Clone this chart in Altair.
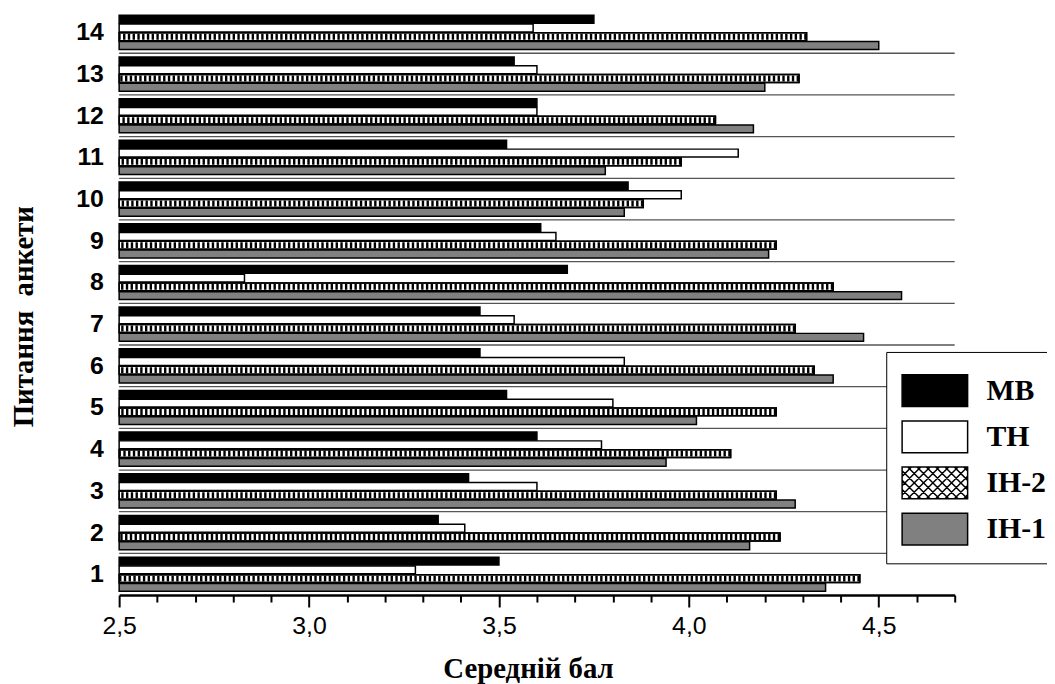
import altair as alt
import pandas as pd

# ---------------- data ----------------
questions = list(range(1, 15))
series_names = ["МВ", "ТН", "ІН-2", "ІН-1"]
mv = [3.50, 3.34, 3.42, 3.60, 3.52, 3.45, 3.45, 3.68, 3.61, 3.84, 3.52, 3.60, 3.54, 3.75]
tn = [3.28, 3.41, 3.60, 3.77, 3.80, 3.83, 3.54, 2.83, 3.65, 3.98, 4.13, 3.60, 3.60, 3.59]
ih2 = [4.45, 4.24, 4.23, 4.11, 4.23, 4.33, 4.28, 4.38, 4.23, 3.88, 3.98, 4.07, 4.29, 4.31]
ih1 = [4.36, 4.16, 4.28, 3.94, 4.02, 4.38, 4.46, 4.56, 4.21, 3.83, 3.78, 4.17, 4.20, 4.50]
x_tick_values = [2.5, 2.6, 2.7, 2.8, 2.9, 3.0, 3.1, 3.2, 3.3, 3.4, 3.5, 3.6,
                 3.7, 3.8, 3.9, 4.0, 4.1, 4.2, 4.3, 4.4, 4.5, 4.6, 4.7]
x_domain = [2.5, 4.7]
separator_questions = list(range(1, 14))

rows = []
for name, vals in zip(series_names, [mv, tn, ih2, ih1]):
    for q, v in zip(questions, vals):
        rows.append({"q": q, "series": name, "v": v})
df = pd.DataFrame(rows)
sep_df = pd.DataFrame({"q": separator_questions})

# ------------- legend swatch shapes (style only) -------------
U = 23.0  # px per path unit (vega scales custom paths by sqrt(size)/2)
x0, x1 = -1.0, 66.0 / U - 1.0
y0, y1 = -16.0 / U, 16.0 / U
rect_path = f"M{x0:.3f},{y0:.3f}H{x1:.3f}V{y1:.3f}H{x0:.3f}Z"


def hatch_path(spacing=9.4 / U):
    segs = []
    c = x0 - y1
    while c <= x1 - y0:
        lo, hi = max(x0, y0 + c), min(x1, y1 + c)
        if hi - lo > 1e-3:
            segs.append(f"M{lo:.3f},{lo - c:.3f}L{hi:.3f},{hi - c:.3f}")
        c += spacing
    c = x0 + y0
    while c <= x1 + y1:
        lo, hi = max(x0, c - y1), min(x1, c - y0)
        if hi - lo > 1e-3:
            segs.append(f"M{lo:.3f},{c - lo:.3f}L{hi:.3f},{c - hi:.3f}")
        c += spacing
    return rect_path + "".join(segs)


shape_range = [rect_path, rect_path, hatch_path(), rect_path]
fill_range = ["#000000", "#ffffff", "#ffffff", "#808080"]
stroke_range = ["#000000", "#000000", "#000000", "#000000"]

W, H = 842, 588

major_test = "abs(datum.value*2 - round(datum.value*2)) < 0.001"

x_axis = alt.Axis(
    values=x_tick_values,
    labelExpr=f"({major_test}) ? replace(format(datum.value, '.1f'), '.', ',') : ''",
    tickSize={"condition": {"test": major_test, "value": 12}, "value": 7},
    tickWidth=2, tickColor="black",
    domainWidth=2.5, domainColor="black",
    labelFont="Liberation Sans", labelFontSize=25, labelColor="black",
    labelPadding=7, labelFlush=False, labelOverlap=False, labelSeparation=0,
    labelBound=False, grid=False,
    title="Середній бал", titleFont="Liberation Serif", titleFontSize=29,
    titleFontWeight="bold", titleColor="black",
    titleX=412, titleY=83, titleBaseline="alphabetic", titleAnchor="middle",
)

y_axis = alt.Axis(
    domain=False, ticks=False, grid=False,
    labelFont="Liberation Sans", labelFontWeight="bold", labelFontSize=25,
    labelColor="black", labelPadding=16,
    title="Питання\u00a0 анкети", titleFont="Liberation Serif", titleFontSize=29,
    titleFontWeight="bold", titleColor="black", titleAngle=270,
    titleX=-87, titleY=307, titleBaseline="alphabetic",
)

legend = alt.Legend(
    orient="none", legendX=773, legendY=343, title=None,
    symbolSize=(2 * U) ** 2, padding=15, labelOffset=38, rowPadding=2.5,
    labelFont="Liberation Serif", labelFontWeight="bold", labelFontSize=30,
    labelColor="black", strokeColor="black", fillColor="white",
    symbolStrokeColor="black", symbolStrokeWidth=1.5, symbolOpacity=1,
)

y_scale = alt.Scale(paddingInner=0.18, paddingOuter=0.09)
y_enc = alt.Y("q:O", sort="descending", scale=y_scale, axis=y_axis)
yoff_enc = alt.YOffset("series:N", sort=series_names,
                       scale=alt.Scale(domain=series_names, paddingInner=0.1, paddingOuter=0))
x_scale = alt.Scale(domain=x_domain, nice=False, zero=False)
x_enc = alt.X("v:Q", scale=x_scale, axis=x_axis)
fill_enc = alt.Fill("series:N", scale=alt.Scale(domain=series_names, range=fill_range),
                    legend=legend)
stroke_enc = alt.Stroke("series:N", scale=alt.Scale(domain=series_names, range=stroke_range),
                        legend=legend)
shape_enc = alt.Shape("series:N", scale=alt.Scale(domain=series_names, range=shape_range),
                      legend=legend)

base = alt.Chart(df)

bars = base.mark_bar(strokeWidth=1.5).encode(
    x=x_enc,
    x2=alt.datum(2.5),
    y=y_enc,
    yOffset=yoff_enc,
    fill=fill_enc,
    stroke=stroke_enc,
)

hatch = base.transform_filter(alt.datum.series == "ІН-2").mark_rule(
    color="black", strokeWidth=6, strokeDash=[2.4, 2.4]
).encode(
    x=x_enc,
    x2=alt.datum(2.5),
    y=y_enc,
    yOffset=yoff_enc,
)

outline = base.transform_filter(alt.datum.series == "ІН-2").mark_bar(
    fillOpacity=0, stroke="black", strokeWidth=1.5
).encode(
    x=x_enc,
    x2=alt.datum(2.5),
    y=y_enc,
    yOffset=yoff_enc,
)

legend_layer = base.transform_filter("false").mark_point(
    filled=True, strokeWidth=1.5, opacity=1
).encode(
    x=x_enc,
    y=y_enc,
    fill=fill_enc,
    stroke=stroke_enc,
    shape=shape_enc,
)

separators = alt.Chart(sep_df).mark_rule(color="#555555", strokeWidth=1.3).encode(
    y=alt.Y("q:O", sort="descending", bandPosition=0, scale=y_scale, axis=y_axis),
    yOffset=alt.value(-3.78),
    x=alt.value(0),
    x2=alt.value(W),
)

chart = alt.layer(separators, bars, hatch, outline, legend_layer).properties(
    width=W, height=H,
    autosize=alt.AutoSizeParams(type="none"),
    padding={"left": 112, "top": 1, "right": 93, "bottom": 87},
    background="white",
).configure_view(stroke=None)

chart.save("out.html", embed_options={"renderer": "svg", "actions": False})
